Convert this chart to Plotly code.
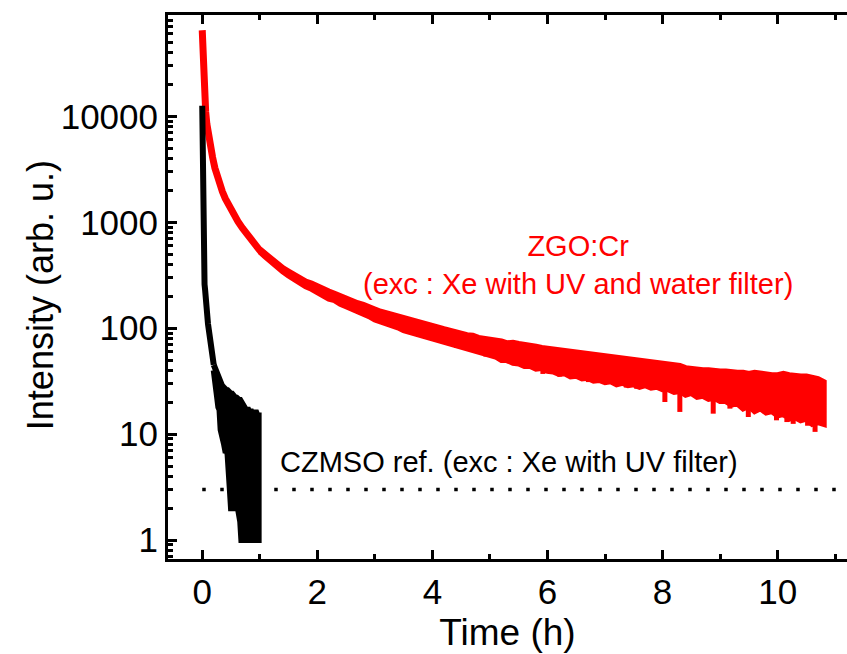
import plotly.graph_objects as go

# ---------------- data ----------------
# ZGO:Cr afterglow, initial fast decay (time in h, intensity in arb. u.)
zgo_t_head = [0, 0.005, 0.01, 0.015, 0.02, 0.03, 0.04, 0.05, 0.06, 0.08, 0.1, 0.12,
              0.15, 0.18, 0.22, 0.26, 0.3, 0.35, 0.4, 0.45, 0.5, 0.56, 0.62, 0.7,
              0.78, 0.86, 0.94, 1.0, 1.1]
zgo_i_head = [65000, 50000, 40000, 33000, 28000, 21000, 16000, 13000, 11000, 8500, 7000, 6000,
              5000, 4100, 3250, 2700, 2300, 1950, 1680, 1480, 1310, 1150, 1020, 880,
              760, 665, 590, 542, 486]

# ZGO:Cr slow tail: upper / lower edge of the noisy signal
zgo_t_band = [1.0, 1.1, 1.2, 1.3, 1.4, 1.5, 1.6, 1.7, 1.8, 1.9,
              2.0, 2.1, 2.2, 2.3, 2.4, 2.5, 2.6, 2.7, 2.8, 2.9,
              3.0, 3.1, 3.2, 3.3, 3.4, 3.5, 3.6, 3.7, 3.8, 3.9,
              4.0, 4.1, 4.2, 4.3, 4.4, 4.5, 4.6, 4.7, 4.8, 4.9,
              5.0, 5.1, 5.2, 5.3, 5.4, 5.5, 5.6, 5.7, 5.8, 5.9,
              6.0, 6.1, 6.2, 6.3, 6.4, 6.5, 6.6, 6.7, 6.8, 6.9,
              7.0, 7.1, 7.2, 7.3, 7.4, 7.5, 7.6, 7.7, 7.8, 7.9,
              8.0, 8.1, 8.2, 8.3, 8.4, 8.5, 8.6, 8.7, 8.8, 8.9,
              9.0, 9.1, 9.2, 9.3, 9.4, 9.5, 9.6, 9.7, 9.8, 9.9,
              10.0, 10.1, 10.2, 10.3, 10.4, 10.5, 10.6, 10.7, 10.8]
zgo_i_hi = [555, 500, 452, 405, 369, 343, 315, 294, 275, 264,
            247, 237, 222, 211, 199, 189, 182, 172, 166, 155,
            150, 143, 138, 131, 128, 123, 118, 116, 111, 108,
            105, 100, 98, 95, 93, 89, 86, 85, 81, 80,
            78, 76, 75, 72, 73, 71, 70, 70, 67, 65,
            64, 62, 62, 60, 59, 58, 57, 56, 56, 54,
            54, 53, 52, 52, 51, 50, 50, 49, 48, 47,
            46, 46, 45, 44, 42, 41, 41, 40, 40, 39,
            39, 39, 38, 38, 38, 37, 38, 37, 37, 36,
            36, 37, 36, 35, 35, 35, 34, 33, 31]
zgo_i_lo = [530, 472, 425, 378, 343, 314, 287, 266, 249, 235,
            218, 206, 190, 184, 170, 161, 151, 145, 136, 130,
            121, 118, 110, 106, 102, 96, 93, 90, 86, 83,
            79, 77, 73, 71, 68, 67, 64, 61, 60, 57,
            56, 54, 50, 50, 47, 46.5, 44, 44, 41.5, 42,
            39.5, 39, 37, 37.5, 35, 35.5, 33.5, 34, 32, 32.5,
            31, 31.5, 29.5, 30.5, 29, 29.5, 28, 29, 27.5, 28,
            26.5, 26.5, 25, 25.5, 23.5, 24.5, 22.5, 23, 21.5, 22,
            20.5, 20.5, 19, 19.5, 17.5, 18.5, 16.5, 17.5, 16, 16.5,
            15, 15.5, 14, 14.5, 13.5, 14, 12.5, 13, 12.5]

# ZGO:Cr isolated low readings below the band
zgo_spike_t = [4.42, 4.93, 5.33, 5.92, 6.21, 6.71, 7.37, 7.55, 8.04, 8.30,
               8.88, 9.17, 9.49, 9.98, 10.16, 10.27, 10.52, 10.65]
zgo_spike_i = [65, 54, 46.5, 37, 35, 31, 27.5, 26.8, 20.1, 16.2,
               15.6, 17.4, 14.5, 13.5, 13, 12.5, 12, 10.5]

# CZMSO reference, initial decay
czm_t_head = [0, 0.002, 0.004, 0.006, 0.008, 0.01, 0.015, 0.02, 0.03, 0.04,
              0.05, 0.07, 0.1, 0.14, 0.18]
czm_i_head = [12600, 9000, 5000, 2500, 1200, 700, 500, 400, 300, 260,
              230, 160, 110, 77, 55]

# CZMSO reference, photon-counting noise floor: upper / lower edge
czm_t_band = [0.20, 0.22, 0.24, 0.26, 0.28,
              0.30, 0.32, 0.34, 0.36, 0.38, 0.40, 0.42, 0.44, 0.46, 0.48,
              0.50, 0.52, 0.54, 0.56, 0.58, 0.60, 0.62, 0.64, 0.66, 0.68,
              0.70, 0.72, 0.74, 0.76, 0.78, 0.80, 0.82, 0.84, 0.86, 0.88,
              0.90, 0.92, 0.94, 0.96, 0.98]
czm_i_hi = [45, 42, 38, 35, 33,
            31, 30, 29, 28, 27, 27, 26, 26, 25, 25,
            24, 24, 23, 23, 22, 22, 21, 21, 21, 20,
            19, 18, 18, 17, 17, 17, 16, 17, 16, 16,
            16, 16, 16, 15, 15]
czm_i_lo = [40, 34, 28, 22, 18,
            17, 11, 10, 9, 8, 7, 7, 6.5, 5, 3,
            2, 2, 2, 2, 2, 2, 2, 2, 1.5, 1,
            1, 1, 1, 1, 1, 1, 1, 1, 1, 1,
            1, 1, 1, 1, 1]

# detection threshold
threshold_level = 3
threshold_t = [0, 11.3]

# axis ticks
x_tick_vals = [0, 2, 4, 6, 8, 10]
x_tick_text = ["0", "2", "4", "6", "8", "10"]
y_tick_vals = [1, 10, 100, 1000, 10000]
y_tick_text = ["1", "10", "100", "1000", "10000"]
y_minor_vals = [0.7, 0.8, 0.9] + [m * 10 ** k for k in range(5) for m in range(2, 10)]


def band_outline(t, hi, lo):
    """Closed outline: along the upper edge, back along the lower edge."""
    return list(t) + list(t[::-1]), list(hi) + list(lo[::-1])


def drops(t_spike, i_spike, t_band, lo):
    """Vertical strokes from the lower band edge down to each low reading."""
    xs, ys = [], []
    for t, v in zip(t_spike, i_spike):
        k = min(range(len(t_band)), key=lambda j: abs(t_band[j] - t))
        xs += [t, t, None]
        ys += [lo[k], v, None]
    return xs, ys


RED = "#ff0000"
FONT = "Liberation Sans, Arial, Helvetica, sans-serif"

fig = go.Figure()
fig.add_trace(go.Scatter(
    x=threshold_t, y=[threshold_level] * len(threshold_t), mode="lines",
    line=dict(color="black", width=3.5, dash="3.5px,14.5px"), hoverinfo="skip"))

# ZGO:Cr
fig.add_trace(go.Scatter(
    x=zgo_t_head, y=zgo_i_head, mode="lines",
    line=dict(color=RED, width=7)))
bx, by = band_outline(zgo_t_band, zgo_i_hi, zgo_i_lo)
fig.add_trace(go.Scatter(
    x=bx, y=by, mode="lines", fill="toself", fillcolor=RED,
    line=dict(color=RED, width=6)))
sx, sy = drops(zgo_spike_t, zgo_spike_i, zgo_t_band, zgo_i_lo)
fig.add_trace(go.Scatter(
    x=sx, y=sy, mode="lines", line=dict(color=RED, width=5)))

# CZMSO reference
fig.add_trace(go.Scatter(
    x=czm_t_head + czm_t_band[:1], y=czm_i_head + czm_i_hi[:1], mode="lines",
    line=dict(color="black", width=6)))
cx, cy = band_outline(czm_t_band, czm_i_hi, czm_i_lo)
fig.add_trace(go.Scatter(
    x=cx, y=cy, mode="lines", fill="toself", fillcolor="black",
    line=dict(color="black", width=6)))

fig.add_annotation(
    x=6.53, y=2.6, xref="x", yref="y",
    text="ZGO:Cr<br>(exc : Xe with UV and water filter)",
    showarrow=False, xanchor="center", yanchor="middle",
    font=dict(family=FONT, size=29, color=RED))
fig.add_annotation(
    x=5.33, y=0.737, xref="x", yref="y",
    text="CZMSO ref. (exc : Xe with UV filter)",
    showarrow=False, xanchor="center", yanchor="middle",
    font=dict(family=FONT, size=29, color="black"))
fig.add_annotation(
    x=-0.1885, y=0.485, xref="paper", yref="paper",
    text="Intensity (arb. u.)", textangle=-90,
    showarrow=False, xanchor="center", yanchor="middle",
    font=dict(family=FONT, size=36, color="black"))

fig.update_layout(
    width=847, height=654,
    margin=dict(l=168, r=0, t=15, b=95),
    paper_bgcolor="white", plot_bgcolor="white",
    showlegend=False,
    font=dict(family=FONT, color="black"),
)
fig.update_xaxes(
    range=[-0.595, 11.205], showline=True, linewidth=3, linecolor="black",
    mirror="ticks", ticks="inside", ticklen=9, tickwidth=2.5, tickcolor="black",
    tickvals=x_tick_vals, ticktext=x_tick_text, tickfont=dict(size=35),
    showgrid=False, zeroline=False, automargin=False,
    minor=dict(ticks="inside", ticklen=5, tickwidth=2.5, tickcolor="black",
               dtick=1, tick0=0, showgrid=False),
    title=dict(text="Time (h)", font=dict(size=37), standoff=10),
)
fig.update_yaxes(
    type="log", range=[-0.179, 4.957], showline=True, linewidth=3, linecolor="black",
    mirror=False, ticks="inside", ticklen=9, tickwidth=2.5, tickcolor="black",
    tickvals=y_tick_vals, ticktext=y_tick_text, tickfont=dict(size=35),
    showgrid=False, zeroline=False, automargin=False,
    minor=dict(ticks="inside", ticklen=5, tickwidth=2.5, tickcolor="black",
               tickvals=y_minor_vals, showgrid=False),
)

fig.write_html("out.html")
